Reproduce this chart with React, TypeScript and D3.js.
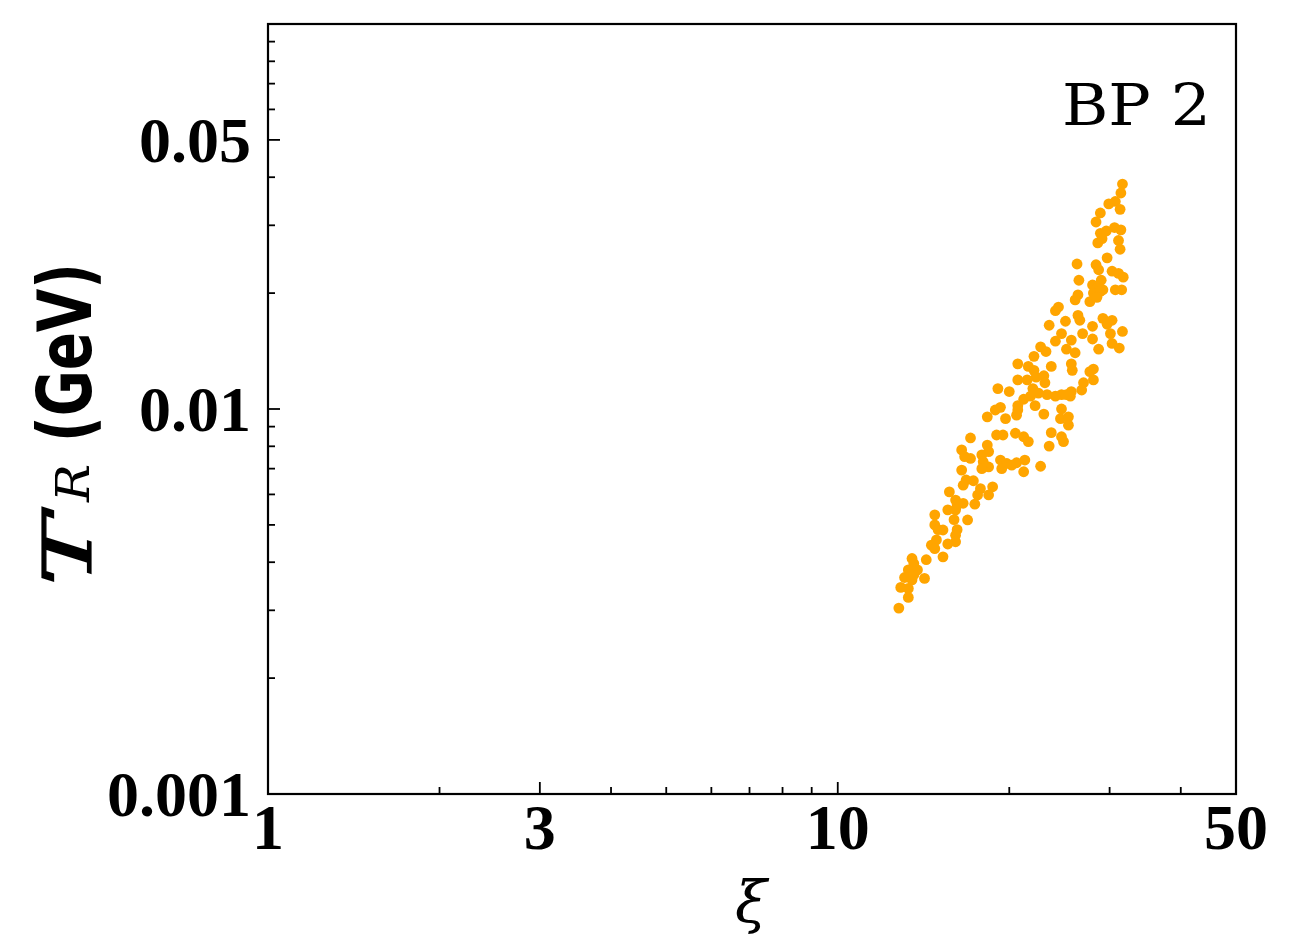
import React from "react";
import * as d3 from "d3";

// ξ values (x) and T_R values in GeV (y)
const xiValues: number[] = [
  31.6, 31.4, 30.7, 29.9, 31.3, 28.9, 28.4, 28.9, 29.6, 30.6,
  31.4, 28.6, 29.1, 31.1, 31.3, 29.7, 26.3, 28.4, 28.7, 30.3,
  31.1, 31.7, 26.5, 29.0, 28.0, 28.6, 29.2, 30.7, 31.5, 26.4,
  26.1, 28.1, 28.9, 27.7, 28.5, 24.4, 24.1, 26.4, 26.6, 25.1,
  23.5, 28.0, 29.2, 30.3, 29.7, 26.9, 30.1, 31.6, 24.7, 24.1,
  25.7, 25.2, 26.1, 28.0, 28.7, 30.3, 31.2, 22.7, 23.2, 22.1,
  20.7, 23.7, 25.7, 25.8, 28.1, 27.7, 21.6, 22.1, 22.3, 20.7,
  21.5, 23.0, 23.1, 28.1, 27.0, 26.8, 19.1, 20.0, 24.7, 24.1,
  22.0, 22.5, 21.8, 25.6, 21.2, 20.7, 22.2, 23.3, 25.2, 25.7,
  19.3, 18.9, 18.3, 19.7, 20.6, 20.7, 23.0, 24.7, 24.6, 25.4,
  25.4, 17.1, 19.0, 19.5, 20.5, 21.2, 21.6, 23.7, 24.7, 24.9,
  23.5, 18.3, 18.4, 16.5, 16.7, 17.1, 17.9, 18.0, 19.3, 19.8,
  19.4, 20.2, 20.6, 21.3, 21.2, 22.7, 16.5, 18.4, 17.9, 16.8,
  17.3, 16.6, 17.8, 17.6, 18.7, 18.4, 15.7, 16.1, 16.6, 16.2,
  17.4, 15.6, 16.1, 14.8, 16.0, 16.9, 14.8, 15.0, 15.3, 16.2,
  16.1, 14.9, 14.6, 16.1, 15.6, 14.8, 15.3, 14.3, 13.5, 13.6,
  13.3, 13.8, 13.1, 13.5, 13.6, 14.2, 12.9, 13.3, 13.3, 12.8,
];

const tRValues: number[] = [
  0.0384, 0.0364, 0.0346, 0.0341, 0.0330, 0.0323, 0.0306, 0.0286, 0.0290, 0.0296,
  0.0292, 0.0270, 0.0277, 0.0274, 0.0260, 0.0247, 0.0238, 0.0237, 0.0230, 0.0228,
  0.0225, 0.0220, 0.0216, 0.0216, 0.0210, 0.0206, 0.0204, 0.0204, 0.0204, 0.0198,
  0.0192, 0.0200, 0.0202, 0.0190, 0.0195, 0.0184, 0.0180, 0.0175, 0.0170, 0.0169,
  0.0165, 0.0164, 0.0172, 0.0170, 0.0166, 0.0157, 0.0157, 0.0159, 0.0157, 0.0150,
  0.0151, 0.0143, 0.0140, 0.0152, 0.0143, 0.0148, 0.0144, 0.0145, 0.0141, 0.0137,
  0.0131, 0.0129, 0.0131, 0.0126, 0.0127, 0.0125, 0.0129, 0.0126, 0.0121, 0.0119,
  0.0119, 0.0122, 0.0117, 0.0119, 0.0117, 0.0112, 0.0113, 0.0111, 0.0109, 0.0108,
  0.0113, 0.0110, 0.0108, 0.0108, 0.0106, 0.0102, 0.0102, 0.0109, 0.0109, 0.0111,
  0.0101, 0.00994, 0.00954, 0.00944, 0.00964, 0.00994, 0.00970, 0.0100, 0.00944, 0.00954,
  0.00908, 0.00841, 0.00856, 0.00856, 0.00865, 0.00847, 0.00823, 0.00868, 0.00847, 0.00823,
  0.00801, 0.00806, 0.00775, 0.00783, 0.00752, 0.00744, 0.00760, 0.00729, 0.00737, 0.00722,
  0.00700, 0.00715, 0.00725, 0.00737, 0.00687, 0.00710, 0.00694, 0.00707, 0.00700, 0.00654,
  0.00651, 0.00634, 0.00621, 0.00598, 0.00628, 0.00598, 0.00609, 0.00580, 0.00569, 0.00563,
  0.00566, 0.00547, 0.00547, 0.00531, 0.00516, 0.00515, 0.00500, 0.00486, 0.00485, 0.00486,
  0.00470, 0.00457, 0.00443, 0.00452, 0.00446, 0.00434, 0.00413, 0.00406, 0.00409, 0.00397,
  0.00382, 0.00382, 0.00365, 0.00360, 0.00371, 0.00363, 0.00344, 0.00342, 0.00324, 0.00304,
];

const xDomain: [number, number] = [1, 50];
const yDomain: [number, number] = [0.001, 0.1];
const xMajorTicks = [1, 3, 10, 50];
const xMajorLabels = ["1", "3", "10", "50"];
const xMinorTicks = [2, 4, 5, 6, 7, 8, 9, 20, 30, 40];
const yMajorTicks = [0.001, 0.01, 0.05];
const yMajorLabels = ["0.001", "0.01", "0.05"];
const yMinorTicks = [0.002, 0.003, 0.004, 0.005, 0.006, 0.007, 0.008, 0.009, 0.02, 0.03, 0.04, 0.06, 0.07, 0.08, 0.09];
const annotation = "BP 2";

const W = 1293;
const H = 950;
const M = { left: 268, right: 1236, top: 24, bottom: 794 };

export default function App() {
  const x = d3.scaleLog().domain(xDomain).range([M.left, M.right]);
  const y = d3.scaleLog().domain(yDomain).range([M.bottom, M.top]);
  const points = xiValues.map((v, i) => ({ xi: v, t: tRValues[i] }));
  const tickFont = "'Liberation Serif', 'Times New Roman', serif";
  const majorLen = 12;
  const minorLen = 7;
  const tickW = 1.8;

  return (
    <svg
      width={W}
      height={H}
      viewBox={`0 0 ${W} ${H}`}
      style={{ position: "absolute", left: 0, top: 0, background: "#fff" }}
    >
      <rect x={0} y={0} width={W} height={H} fill="#fff" />
      <g>
        {points.map((p, i) => (
          <circle key={i} cx={x(p.xi)} cy={y(p.t)} r={5.4} fill="#FFA500" />
        ))}
      </g>
      {/* frame */}
      <rect
        x={M.left}
        y={M.top}
        width={M.right - M.left}
        height={M.bottom - M.top}
        fill="none"
        stroke="#000"
        strokeWidth={2.2}
      />
      {/* x ticks */}
      {xMajorTicks.map((t) => (
        <line key={"xM" + t} x1={x(t)} x2={x(t)} y1={M.bottom} y2={M.bottom - majorLen} stroke="#000" strokeWidth={tickW} />
      ))}
      {xMinorTicks.map((t) => (
        <line key={"xm" + t} x1={x(t)} x2={x(t)} y1={M.bottom} y2={M.bottom - minorLen} stroke="#000" strokeWidth={tickW} />
      ))}
      {/* y ticks */}
      {yMajorTicks.map((t) => (
        <line key={"yM" + t} x1={M.left} x2={M.left + majorLen} y1={y(t)} y2={y(t)} stroke="#000" strokeWidth={tickW} />
      ))}
      {yMinorTicks.map((t) => (
        <line key={"ym" + t} x1={M.left} x2={M.left + minorLen} y1={y(t)} y2={y(t)} stroke="#000" strokeWidth={tickW} />
      ))}
      {/* x tick labels */}
      {xMajorTicks.map((t, i) => (
        <text
          key={"xl" + t}
          x={x(t)}
          y={849}
          textAnchor="middle"
          fontFamily={tickFont}
          fontWeight="bold"
          fontSize={64}
          fill="#000"
        >
          {xMajorLabels[i]}
        </text>
      ))}
      {/* y tick labels */}
      {yMajorTicks.map((t, i) => (
        <text
          key={"yl" + t}
          x={251}
          y={y(t) + 22}
          textAnchor="end"
          fontFamily={tickFont}
          fontWeight="bold"
          fontSize={64}
          fill="#000"
        >
          {yMajorLabels[i]}
        </text>
      ))}
      {/* x axis label */}
      <text
        x={751}
        y={922}
        textAnchor="middle"
        fontFamily="'DejaVu Serif', serif"
        fontStyle="italic"
        fontSize={58}
        fill="#000"
      >
        ξ
      </text>
      {/* y axis label */}
      <text
        transform="translate(91,586) rotate(-90)"
        fontFamily="'DejaVu Serif', serif"
        fontStyle="italic"
        fontSize={68}
        textLength={72}
        lengthAdjust="spacingAndGlyphs"
        fill="#000"
        stroke="#000"
        strokeWidth={1.2}
      >
        T
      </text>
      <text
        transform="translate(89,502) rotate(-90)"
        fontFamily="'DejaVu Serif', serif"
        fontStyle="italic"
        fontSize={46}
        textLength={38}
        lengthAdjust="spacingAndGlyphs"
        fill="#000"
      >
        R
      </text>
      <text
        transform="translate(91,442) rotate(-90)"
        fontFamily="'DejaVu Sans', sans-serif"
        fontWeight="bold"
        fontSize={75}
        textLength={179}
        lengthAdjust="spacingAndGlyphs"
        fill="#000"
      >
        (GeV)
      </text>
      {/* annotation */}
      <text
        x={1211}
        y={125}
        textAnchor="end"
        fontFamily="'DejaVu Serif', serif"
        fontSize={58}
        textLength={149}
        lengthAdjust="spacingAndGlyphs"
        fill="#000"
      >
        {annotation}
      </text>
    </svg>
  );
}
